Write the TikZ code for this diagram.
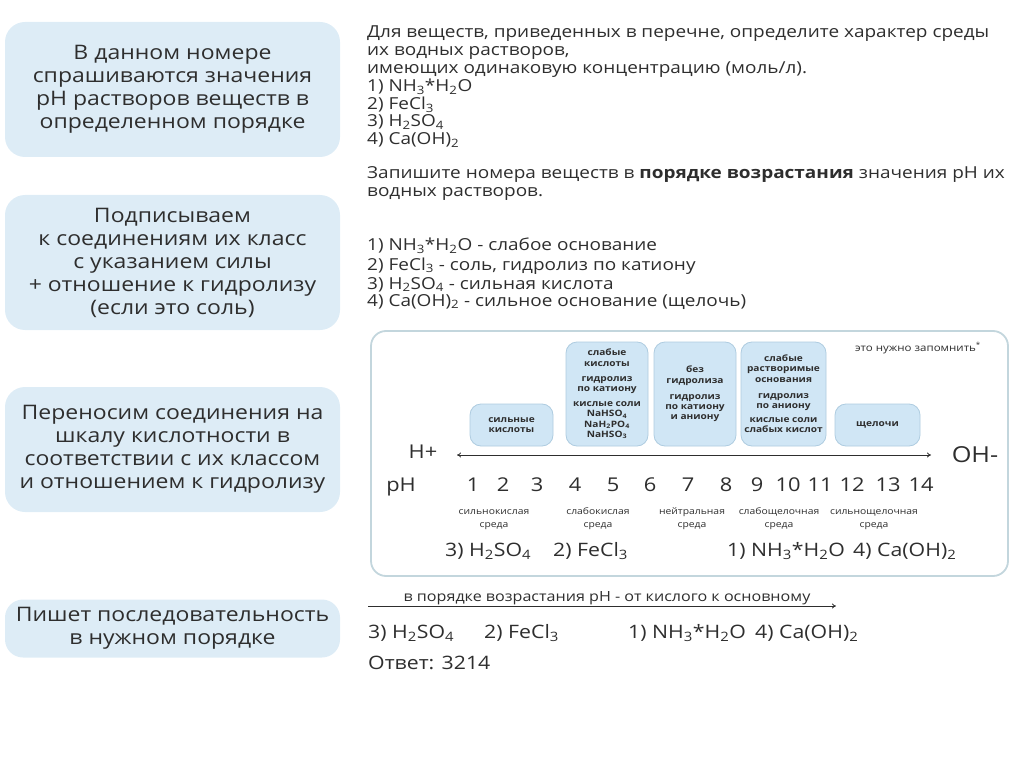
\documentclass[tikz,border=0pt]{standalone}
\usepackage{fontspec}
\setmainfont[FakeStretch=1.15]{Open Sans}
\usetikzlibrary{arrows.meta}
\definecolor{txt}{HTML}{2E2E2E}
\definecolor{lbox}{HTML}{DDECF6}
\definecolor{ibox}{HTML}{D0E6F5}
\definecolor{iborder}{HTML}{AECCE0}
\definecolor{bigborder}{HTML}{C3D6DD}
\newcommand\sbs[1]{\textsubscript{#1}}
\begin{document}
\begin{tikzpicture}[x=1pt,y=-1pt,
  every node/.style={text=txt, inner sep=0pt},
  leftbox/.style={fill=lbox, rounded corners=20pt, align=center, minimum width=335pt,
     font=\fontsize{20}{23}\selectfont},
  maintext/.style={anchor=base west, font=\fontsize{16.5}{18}\selectfont},
  innerbox/.style={fill=ibox, draw=iborder, line width=0.8pt, rounded corners=11pt},
  innertext/.style={align=center, font=\bfseries\fontsize{8.8}{10.2}\selectfont},
  num/.style={anchor=base, font=\fontsize{19}{20}\selectfont},
  zone/.style={align=center, anchor=base, font=\fontsize{9}{13}\selectfont},
  formula/.style={anchor=base west, font=\fontsize{18.5}{20}\selectfont},
  tipline/.style={line width=0.8pt, draw=txt}
]
\useasboundingbox (0,0) rectangle (1024,767);

% left boxes
\node[leftbox, minimum height=135pt] (b1) at (172.5,89.5)
  {В данном номере\\спрашиваются значения\\pH растворов веществ в\\определенном порядке};
\node[leftbox, minimum height=135pt] (b2) at (172.5,262.5)
  {Подписываем\\к соединениям их класс\\с указанием силы\\+ отношение к гидролизу\\(если это соль)};
\node[leftbox, minimum height=125pt] (b3) at (172.5,449.5)
  {Переносим соединения на\\шкалу кислотности в\\соответствии с их классом\\и отношением к гидролизу};
\node[leftbox, minimum height=58pt, rounded corners=18pt] (b4) at (172.5,628.5)
  {Пишет последовательность\\в нужном порядке};

% task text
\node[maintext] (t1) at (367,38) {Для веществ, приведенных в перечне, определите характер среды};
\node[maintext] (t2) at (367,56) {их водных растворов,};
\node[maintext] (t3) at (367,74) {имеющих одинаковую концентрацию (моль/л).};
\node[maintext] (t4) at (367,92) {1) NH\sbs{3}*H\sbs{2}O};
\node[maintext] (t5) at (367,110) {2) FeCl\sbs{3}};
\node[maintext] (t6) at (367,127) {3) H\sbs{2}SO\sbs{4}};
\node[maintext] (t7) at (367,145) {4) Ca(OH)\sbs{2}};
\node[maintext] (t8) at (367,179) {Запишите номера веществ в \textbf{порядке возрастания} значения pH их};
\node[maintext] (t9) at (367,197) {водных растворов.};

\node[maintext] (c1) at (367,251) {1) NH\sbs{3}*H\sbs{2}O - слабое основание};
\node[maintext] (c2) at (367,270) {2) FeCl\sbs{3} - соль, гидролиз по катиону};
\node[maintext] (c3) at (367,289) {3) H\sbs{2}SO\sbs{4} - сильная кислота};
\node[maintext] (c4) at (367,306) {4) Ca(OH)\sbs{2} - сильное основание (щелочь)};

% big scale box
\draw[draw=bigborder, line width=1.8pt, fill=white, rounded corners=15pt] (371,331) rectangle (1008,576);

% inner boxes
\draw[innerbox] (470,404) rectangle (553,446);
\node[innertext] (i1) at (511.5,425) {сильные\\кислоты};
\draw[innerbox] (566,342) rectangle (648,446);
\node[innertext] (i2) at (607,394) {слабые\\кислоты\\[5pt]гидролиз\\по катиону\\[5pt]кислые соли\\NaHSO\sbs{4}\\NaH\sbs{2}PO\sbs{4}\\NaHSO\sbs{3}};
\draw[innerbox] (654,342) rectangle (736,446);
\node[innertext] (i3) at (695,394) {без\\гидролиза\\[6pt]гидролиз\\по катиону\\и аниону};
\draw[innerbox] (741,342) rectangle (826,446);
\node[innertext] (i4) at (783.5,394) {слабые\\растворимые\\основания\\[6pt]гидролиз\\по аниону\\[4pt]кислые соли\\слабых кислот};
\draw[innerbox] (835,404) rectangle (920,446);
\node[innertext] (i5) at (877.5,425) {щелочи};
\node[font=\fontsize{10}{11}\selectfont] (memo) at (918,348) {это нужно запомнить\textsuperscript{*}};

% axis
\node[font=\fontsize{19}{20}\selectfont] (hp) at (423,452) {H+};
\node[font=\fontsize{22}{24}\selectfont] (oh) at (975,455) {OH-};
\coordinate (al) at (457,455);
\coordinate (ar) at (931,455);
\draw[tipline, {To[length=4pt,width=5pt]}-{To[length=4pt,width=5pt]}] (al) -- (ar);

\node[num] (ph) at (401,491) {pH};
\foreach \n/\x in {1/473,2/503,3/537,4/575,5/613,6/650,7/688,8/726,9/757,10/788,11/820,12/852,13/888,14/921}
  \node[num] (n\n) at (\x,491) {\n};

\node[zone] (z1) at (494,527) {сильнокислая\\среда};
\node[zone] (z2) at (598,527) {слабокислая\\среда};
\node[zone] (z3) at (692,527) {нейтральная\\среда};
\node[zone] (z4) at (779,527) {слабощелочная\\среда};
\node[zone] (z5) at (874,527) {сильнощелочная\\среда};

\node[formula] (s1) at (445,556) {3) H\sbs{2}SO\sbs{4}};
\node[formula] (s2) at (553,556) {2) FeCl\sbs{3}};
\node[formula] (s3) at (727,556) {1) NH\sbs{3}*H\sbs{2}O};
\node[formula] (s4) at (853,556) {4) Ca(OH)\sbs{2}};

% bottom sequence
\coordinate (bl) at (368,606);
\coordinate (br) at (836,606);
\draw[tipline, -{To[length=4pt,width=5pt]}] (bl) -- (br);
\node[anchor=base, font=\fontsize{14}{15}\selectfont] (ord) at (607,601) {в порядке возрастания pH - от кислого к основному};
\node[formula] (r1) at (368,638) {3) H\sbs{2}SO\sbs{4}};
\node[formula] (r2) at (484,638) {2) FeCl\sbs{3}};
\node[formula] (r3) at (628,638) {1) NH\sbs{3}*H\sbs{2}O};
\node[formula] (r4) at (755,638) {4) Ca(OH)\sbs{2}};
\node[formula] (ans) at (368,669) {Ответ: 3214};
\end{tikzpicture}
\end{document}
